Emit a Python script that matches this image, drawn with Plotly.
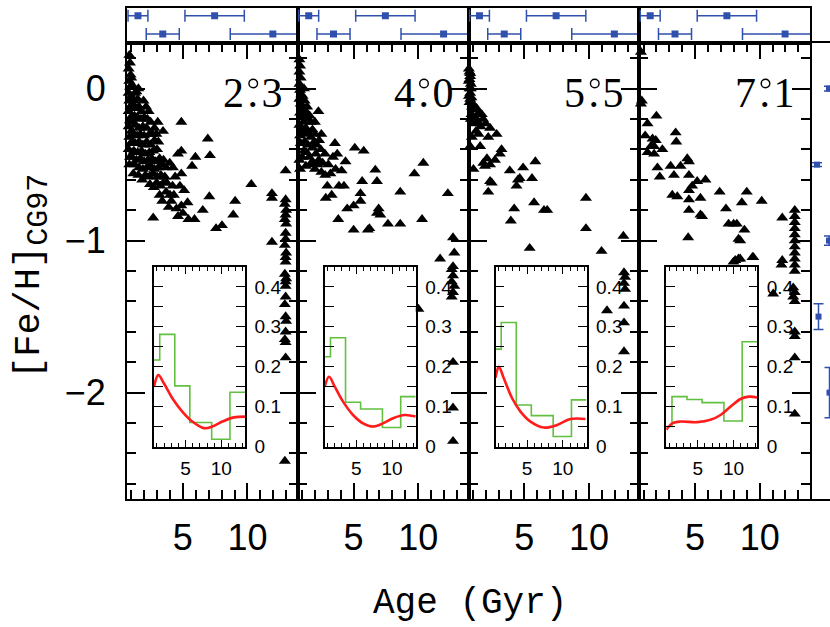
import plotly.graph_objects as go

W, H = 830, 627

FIELD_LABELS = ["2\u200a.\u200a3", "4\u200a.\u200a0", "5\u200a.\u200a5", "7\u200a.\u200a1"]

# (age [Gyr], [Fe/H])
STARS_23 = [
    (0.85, 0.22), (0.9, 0.17), (0.8, 0.13), (0.95, 0.09), (0.85, 0.05), (0.9, 0.01), (0.8, -0.03), (1.0, -0.05),
    (0.85, -0.08), (0.95, -0.12), (0.8, -0.15), (1.05, -0.18), (0.9, -0.21), (0.8, -0.25), (1.0, -0.28),
    (0.85, -0.32), (0.95, -0.36), (0.8, -0.4), (0.9, -0.45), (0.85, -0.5), (1.16, -0.56),
    (1.1, -0.1), (1.15, -0.22), (1.4, -0.02), (1.1, 0.02), (1.0, 0.07), (1.1, -0.35), (1.05, -0.45), (1.25, -0.5),
    (1.3, -0.03), (1.2, -0.08), (1.5, -0.07), (1.35, -0.13), (1.6, -0.12), (1.8, -0.15), (1.25, -0.18), (1.5, -0.19),
    (1.75, -0.2), (2.0, -0.19), (2.25, -0.2), (2.5, -0.22), (1.3, -0.24), (1.6, -0.26), (1.9, -0.25), (2.2, -0.26),
    (2.8, -0.26), (1.2, -0.3), (1.45, -0.31), (1.7, -0.3), (2.0, -0.31), (2.4, -0.3), (3.46, -0.28), (1.3, -0.36),
    (1.6, -0.35), (1.9, -0.37), (2.2, -0.35), (2.5, -0.37), (2.8, -0.34), (1.2, -0.41), (1.5, -0.42), (1.8, -0.41),
    (2.1, -0.43), (2.4, -0.42), (2.7, -0.41), (3.0, -0.4), (1.4, -0.47), (1.7, -0.46), (2.0, -0.48), (2.3, -0.47),
    (2.6, -0.46), (2.9, -0.48), (3.2, -0.46), (3.5, -0.47), (1.6, -0.52), (1.9, -0.53), (2.2, -0.52), (2.5, -0.51),
    (2.8, -0.53), (3.1, -0.52), (3.4, -0.5), (3.7, -0.52), (3.98, -0.49), (4.23, -0.52), (2.1, -0.57), (2.4, -0.58),
    (2.7, -0.56), (3.0, -0.58), (3.3, -0.57), (3.6, -0.58),
    (1.55, -0.57), (1.85, -0.6), (2.45, -0.63), (2.75, -0.65), (3.25, -0.64), (3.75, -0.62), (3.9, -0.78),
    (4.3, -0.7), (4.4, -0.58), (2.65, -0.3), (2.95, -0.3), (3.1, -0.35), (1.55, 0.0), (1.95, -0.08), (2.15, -0.12),
    (3.05, -0.22), (2.35, -0.15),
    (4.88, -0.56), (2.97, -0.62), (4.2, -0.64), (4.77, -0.64), (3.2, -0.7), (3.7, -0.68), (4.1, -0.74), (5.1, -0.67),
    (5.36, -0.75), (4.88, -0.77), (4.62, -0.84), (5.43, -0.86), (5.9, -0.86), (6.54, -0.8), (2.7, -0.85), (3.5, -0.62),
    (4.0, -0.7), (3.4, -0.74), (4.5, -0.79), (5.0, -0.82),
    (4.88, -0.22), (6.93, -0.33), (7.1, -0.44), (5.97, -0.45), (5.71, -0.51), (4.88, -0.41), (4.62, -0.43),
    (7.05, -0.71), (9.05, -0.74), (8.9, -0.83), (7.57, -0.92), (8.03, -0.9), (10.3, -0.63), (12.96, -0.54),
    (11.9, -0.69), (11.9, -0.72), (11.9, -1.01),
    (12.96, -0.73), (12.9, -0.76), (13.0, -0.8), (12.96, -0.83), (12.9, -0.86), (13.0, -0.89), (12.96, -0.95),
    (12.96, -0.99), (12.9, -1.03), (13.0, -1.08), (12.96, -1.11), (12.96, -1.14), (12.9, -1.22), (13.0, -1.25),
    (12.96, -1.27), (12.96, -1.3), (12.96, -1.37), (12.9, -1.42), (12.96, -1.5), (13.0, -1.53), (12.96, -1.6),
    (12.9, -1.65), (12.96, -1.67), (12.96, -1.77), (12.9, -2.45),
]

STARS_40 = [
    (0.8, 0.19), (0.85, 0.15), (0.8, 0.11), (0.9, 0.07), (0.8, 0.03), (0.85, -0.01), (0.95, -0.04), (0.8, -0.07),
    (0.9, -0.1), (1.0, -0.13), (0.85, -0.16), (0.95, -0.19), (1.1, -0.22), (0.8, -0.24), (1.0, -0.27),
    (0.85, -0.31), (0.9, -0.36), (0.8, -0.47), (0.85, -0.53),
    (1.05, -0.05), (1.15, 0.0), (1.1, -0.3), (1.4, -0.12), (1.6, -0.18), (2.0, -0.22), (1.35, -0.42), (1.65, -0.5),
    (2.2, -0.5), (2.5, -0.55), (2.8, -0.57), (1.95, -0.35), (2.5, -0.3), (1.0, -0.45), (3.4, -0.45),
    (1.2, -0.08), (1.3, -0.15), (1.17, -0.17), (1.43, -0.2), (1.68, -0.22), (1.3, -0.26), (1.81, -0.27), (1.5, -0.29),
    (1.68, -0.32), (2.0, -0.3), (2.32, -0.34), (1.2, -0.35), (1.45, -0.37), (1.81, -0.39), (2.1, -0.37),
    (1.17, -0.41), (2.45, -0.4), (1.55, -0.45), (2.07, -0.43), (2.78, -0.43), (1.3, -0.51), (1.8, -0.48),
    (2.3, -0.47), (2.6, -0.49), (3.04, -0.5), (2.0, -0.53), (3.6, -0.53), (4.07, -0.54), (3.2, -0.56), (2.27, -0.15),
    (3.55, -0.36), (3.73, -0.43), (4.37, -0.48), (5.09, -0.39), (5.78, -0.41), (6.68, -0.535), (6.81, -0.61),
    (5.66, -0.61), (5.53, -0.69), (5.53, -0.74), (5.0, -0.77), (4.5, -0.79), (6.94, -0.79), (6.81, -0.82),
    (7.07, -0.83), (7.66, -0.89), (8.61, -0.89), (8.61, -0.68), (9.71, -0.56), (10.4, -0.49), (10.3, -0.86),
    (12.3, -0.69), (12.7, -0.98), (12.8, -1.08), (11.7, -1.12), (12.7, -1.17), (6.22, -0.92), (6.1, -0.93),
    (5.0, -0.93), (3.81, -0.86), (2.84, -0.72), (3.3, -0.7), (2.96, -0.64), (3.86, -0.64), (4.25, -0.64),
    (10.02, -1.45),
    (12.6, -1.19), (12.7, -1.23), (12.6, -1.27), (12.8, -1.3), (12.7, -1.34), (12.6, -1.37), (12.7, -1.8),
    (12.7, -2.1), (12.7, -2.32),
]

STARS_55 = [
    (0.75, 0.11), (0.8, 0.08), (0.7, 0.05), (0.85, 0.03), (0.75, 0.0), (0.8, -0.03), (0.9, -0.06), (0.75, -0.09),
    (0.7, 0.13), (0.8, 0.1), (0.75, 0.06), (0.85, 0.0), (0.7, -0.05), (0.8, -0.07), (1.0, -0.1), (0.85, -0.2),
    (1.05, -0.23), (1.25, -0.28), (1.45, -0.3),
    (0.95, -0.12), (1.1, -0.14), (0.9, -0.17), (1.3, -0.13), (1.5, -0.16), (1.2, -0.19), (1.7, -0.17), (1.4, -0.22),
    (1.8, -0.2), (1.6, -0.25), (2.0, -0.23), (2.34, -0.26), (2.85, -0.3), (2.2, -0.32), (0.93, -0.32), (0.8, -0.38),
    (1.57, -0.38), (3.23, -0.4), (3.1, -0.43), (2.72, -0.47), (1.82, -0.49), (1.95, -0.51), (2.34, -0.5),
    (2.1, -0.46), (1.05, -0.53), (2.34, -0.61), (2.47, -0.62), (2.2, -0.68), (3.87, -0.54), (4.9, -0.52),
    (5.85, -0.48), (4.5, -0.6), (4.64, -0.59), (4.39, -0.64), (5.59, -0.59), (5.75, -0.75), (4.21, -0.79),
    (3.95, -0.87), (6.52, -0.8), (6.77, -0.8), (5.41, -1.05), (9.77, -0.72), (9.77, -0.92), (10.98, -1.07),
    (12.67, -0.97), (12.72, -1.21), (12.8, -1.24), (12.72, -1.28), (12.8, -1.32), (11.4, -1.46), (12.72, -1.43),
    (12.72, -1.54), (12.72, -1.73),
]

STARS_71 = [
    (0.8, 0.24), (0.87, -0.08), (0.8, -0.1), (2.0, -0.18), (1.31, -0.23), (1.13, -0.31), (1.7, -0.33), (1.95, -0.34),
    (1.57, -0.38), (1.82, -0.38), (1.31, -0.42), (1.82, -0.43), (2.46, -0.4), (3.49, -0.29), (3.54, -0.35),
    (4.39, -0.46), (4.52, -0.48), (2.08, -0.52), (3.1, -0.51), (3.87, -0.51), (2.26, -0.58), (3.36, -0.57),
    (4.52, -0.57), (5.16, -0.61), (5.8, -0.6), (4.77, -0.64), (4.52, -0.67), (3.23, -0.7), (3.62, -0.71),
    (4.52, -0.73), (5.41, -0.72), (4.52, -0.8), (5.41, -0.83), (5.54, -0.84), (6.9, -0.68), (9.0, -0.68),
    (8.62, -0.75), (10.16, -0.74), (7.39, -0.79), (7.59, -0.89), (7.98, -0.89), (8.23, -0.89), (8.82, -0.93),
    (8.36, -0.99), (8.49, -1.0), (4.46, -0.98), (11.75, -0.85), (9.44, -1.11), (8.36, -1.12), (7.97, -1.14),
    (11.75, -1.13), (8.11, -1.13), (8.49, -1.12), (9.51, -1.11), (11.69, -1.16), (11.05, -1.35),
    (12.72, -0.8), (12.72, -0.84), (12.72, -0.88), (12.72, -0.92), (12.72, -0.96), (12.72, -1.0), (12.72, -1.04),
    (12.72, -1.08), (12.72, -1.12), (12.72, -1.16), (12.72, -1.2), (12.6, -1.31), (12.72, -1.34), (12.6, -1.37),
    (12.72, -1.4), (12.72, -1.6), (12.72, -1.63), (12.72, -1.77), (12.72, -2.14),
]

# inset: age histogram (green) and recovered SFR (red)
BIN_EDGES = [0.6, 1.4, 3.5, 5.6, 8.65, 11.2, 13.3]
HIST_23 = [0.217, 0.281, 0.152, 0.06, 0.018, 0.136]
HIST_40 = [0.225, 0.2725, 0.111, 0.094, 0.0475, 0.125]
HIST_55 = [0.244, 0.311, 0.104, 0.0775, 0.025, 0.117]
HIST_71 = [0.05, 0.125, 0.118, 0.11, 0.064, 0.2625]

SFR_23 = [(0.6, 0.15), (1.2, 0.179), (2.0, 0.158), (3.16, 0.121), (4.55, 0.0875), (5.95, 0.0625),
          (7.57, 0.046), (8.73, 0.05), (10.13, 0.0625), (11.75, 0.073), (13.3, 0.075)]
SFR_40 = [(0.6, 0.15), (1.2, 0.175), (2.0, 0.15), (3.16, 0.1125), (4.55, 0.079), (5.95, 0.058),
          (7.34, 0.05), (8.73, 0.058), (10.13, 0.071), (11.76, 0.079), (13.3, 0.075)]
SFR_55 = [(0.6, 0.1725), (1.06, 0.2), (1.76, 0.171), (2.92, 0.121), (4.09, 0.0875), (5.48, 0.0625),
          (7.34, 0.0475), (9.2, 0.054), (11.06, 0.069), (13.15, 0.069)]
SFR_71 = [(0.6, 0.042), (1.44, 0.058), (2.6, 0.0625), (4.92, 0.061), (6.78, 0.067), (8.18, 0.079),
          (9.57, 0.1), (10.97, 0.119), (12.13, 0.125), (13.3, 0.123)]

# typical age errors (top strip)
AGE_ERR_X = [1.52, 7.46, 3.44, 11.97]
AGE_ERR_SIG = [0.77, 2.3, 1.28, 3.3]
AGE_ERR_ROW = [0.78, 0.78, 0.257, 0.257]

# typical [Fe/H] errors (right edge)
FEH_ERR_Y = [0.0, -0.5, -1.0, -1.5, -2.0]
FEH_ERR_SIG = [0.015, 0.012, 0.03, 0.085, 0.165]
FEH_ERR_X = [19.0, 7.0, 19.0, 8.5, 19.5]

XTICKS = [5, 10]
XTICK_TEXT = ["5", "10"]
YTICKS = [-2, -1, 0]
YTICK_TEXT = ["\u22122", "\u22121", "0"]
INSET_YTICKS = [0, 0.1, 0.2, 0.3, 0.4]
INSET_YTICK_TEXT = ["0", "0.1", "0.2", "0.3", "0.4"]

STARS = [STARS_23, STARS_40, STARS_55, STARS_71]
HISTS = [HIST_23, HIST_40, HIST_55, HIST_71]
SFRS = [SFR_23, SFR_40, SFR_55, SFR_71]

BLUE = "#3050ad"
GREEN = "#62c040"
RED = "#ff1c1c"
SANS = "Liberation Sans"
MONO = "Liberation Mono"
SERIF = "Liberation Serif"

layout = dict(width=W, height=H, margin=dict(l=0, r=0, t=0, b=0, autoexpand=False),
              paper_bgcolor="white", plot_bgcolor="white", showlegend=False)
traces = []
annotations = []
shapes = []
counter = [0]


def add_axes(xd, yd, xkw, ykw):
    counter[0] += 1
    s = "" if counter[0] == 1 else str(counter[0])
    layout["xaxis" + s] = dict(domain=xd, anchor="y" + s, **xkw)
    layout["yaxis" + s] = dict(domain=yd, anchor="x" + s, **ykw)
    return "x" + s, "y" + s


def px2fx(px):
    return px / W


def py2fy(py):
    return 1 - py / H


PANEL_W = 170.75
X0 = 127
MAIN_TOP, MAIN_BOT = 43, 499
STRIP_TOP = 8
XR = [0.67, 13.9]
YR = [-2.7, 0.3]
IXR = [0.6, 13.3]
IYR = [0, 0.45]

common = dict(showgrid=False, zeroline=False, linecolor="black", tickcolor="black", automargin=False)

for i in range(4):
    L = X0 + PANEL_W * i
    xd = [px2fx(L), px2fx(L + PANEL_W)]
    xkw = dict(range=XR, showline=True, linewidth=2, mirror="ticks", ticks="inside", ticklen=16,
               tickwidth=1.5, tickvals=XTICKS, ticktext=XTICK_TEXT,
               minor=dict(ticks="inside", ticklen=9, tickwidth=1.5, tickcolor="black",
                          tickvals=list(range(1, 14))),
               tickfont=dict(family=SANS, size=36, color="black"), ticklabelstandoff=6, **common)
    ykw = dict(range=YR, showline=True, linewidth=2, mirror="ticks", ticks="inside", ticklen=18,
               tickwidth=1.5, tickvals=YTICKS, ticktext=YTICK_TEXT, showticklabels=(i == 0),
               minor=dict(ticks="inside", ticklen=9, tickwidth=1.5, tickcolor="black",
                          tickvals=[round(-2.6 + 0.2 * j, 1) for j in range(15)]),
               tickfont=dict(family=SANS, size=36, color="black"), ticklabelstandoff=12, **common)
    xa, ya = add_axes(xd, [py2fy(MAIN_BOT), py2fy(MAIN_TOP)], xkw, ykw)
    stars = STARS[i]
    traces.append(go.Scatter(x=[s[0] for s in stars], y=[s[1] for s in stars], mode="markers",
                             marker=dict(symbol="triangle-up", size=10.5, color="black", line=dict(width=0)),
                             xaxis=xa, yaxis=ya, cliponaxis=False))

    xkw = dict(range=XR, showline=True, linewidth=2, mirror=True, ticks="", showticklabels=False, **common)
    ykw = dict(range=[0, 1], showline=True, linewidth=2, mirror=True, ticks="", showticklabels=False, **common)
    xa, ya = add_axes(xd, [py2fy(MAIN_TOP), py2fy(STRIP_TOP)], xkw, ykw)
    traces.append(go.Scatter(x=AGE_ERR_X, y=AGE_ERR_ROW, mode="markers",
                             marker=dict(symbol="square", size=7, color=BLUE),
                             error_x=dict(type="data", array=AGE_ERR_SIG, color=BLUE, thickness=1.5, width=6),
                             xaxis=xa, yaxis=ya))

    # field label: decimal degrees written as 2.3 with the degree ring above the point
    R = L + PANEL_W
    annotations.append(dict(text=FIELD_LABELS[i], x=px2fx(R - 13), y=py2fy(93), xref="paper", yref="paper",
                            xanchor="right", yanchor="middle", showarrow=False,
                            font=dict(family=SERIF, size=42, color="black")))
    cx, cy, r = R - 44.5, 83.5, 4.3
    shapes.append(dict(type="circle", xref="paper", yref="paper",
                       x0=px2fx(cx - r), x1=px2fx(cx + r), y0=py2fy(cy + r), y1=py2fy(cy - r),
                       line=dict(color="black", width=1.4), fillcolor="rgba(0,0,0,0)"))

for i in range(4):
    L = X0 + PANEL_W * i
    IL = L + 27
    xkw = dict(range=IXR, showline=True, linewidth=1.5, mirror="ticks", ticks="inside", ticklen=7,
               tickwidth=1.2, tickvals=XTICKS, ticktext=XTICK_TEXT,
               minor=dict(ticks="inside", ticklen=4, tickwidth=1.2, tickcolor="black",
                          tickvals=list(range(1, 14))),
               tickfont=dict(family=SANS, size=19, color="black"), ticklabelstandoff=4, **common)
    ykw = dict(range=IYR, side="right", showline=True, linewidth=1.5, mirror="ticks", ticks="inside",
               ticklen=9, tickwidth=1.2, tickvals=INSET_YTICKS, ticktext=INSET_YTICK_TEXT,
               minor=dict(ticks="inside", ticklen=9, tickwidth=1.2, tickcolor="black",
                          tickvals=[0.05, 0.15, 0.25, 0.35]),
               tickfont=dict(family=SANS, size=19, color="black"), ticklabelstandoff=4, **common)
    xa, ya = add_axes([px2fx(IL), px2fx(IL + 91)], [py2fy(446.5), py2fy(267)], xkw, ykw)
    h = HISTS[i]
    traces.append(go.Scatter(x=BIN_EDGES, y=h + [h[-1]], mode="lines", line=dict(color=GREEN, width=1.6, shape="hv"),
                             xaxis=xa, yaxis=ya))
    s = SFRS[i]
    traces.append(go.Scatter(x=[p[0] for p in s], y=[p[1] for p in s], mode="lines",
                             line=dict(color=RED, width=2.6, shape="spline", smoothing=1.0),
                             xaxis=xa, yaxis=ya))

xkw = dict(range=[0, 20], showline=True, linewidth=2, mirror=True, ticks="", showticklabels=False, **common)
ykw = dict(range=YR, showline=False, ticks="", showticklabels=False, **common)
xa, ya = add_axes([px2fx(X0 + 4 * PANEL_W), 1.0], [py2fy(MAIN_BOT), py2fy(MAIN_TOP)], xkw, ykw)
traces.append(go.Scatter(x=FEH_ERR_X, y=FEH_ERR_Y, mode="markers",
                         marker=dict(symbol="square", size=6, color=BLUE),
                         error_y=dict(type="data", array=FEH_ERR_SIG, color=BLUE, thickness=1.5, width=5),
                         xaxis=xa, yaxis=ya, cliponaxis=False))

annotations.append(dict(text="Age (Gyr)", x=px2fx(470), y=py2fy(603), xref="paper", yref="paper",
                        xanchor="center", yanchor="middle", showarrow=False,
                        font=dict(family=MONO, size=36, color="black")))
annotations.append(dict(text="[Fe/H]<sub><span style='font-size:30px'>CG97</span></sub>",
                        x=px2fx(32), y=py2fy(277), xref="paper", yref="paper",
                        xanchor="center", yanchor="middle", showarrow=False, textangle=-90,
                        font=dict(family=MONO, size=37, color="black")))

layout["annotations"] = annotations
layout["shapes"] = shapes
fig = go.Figure(data=traces, layout=layout)
fig.write_html("out.html")
